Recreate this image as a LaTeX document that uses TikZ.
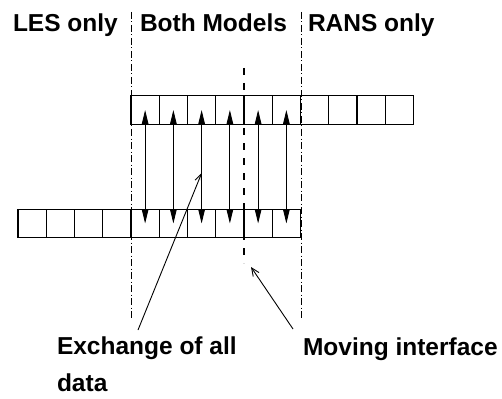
\documentclass[tikz,border=0pt]{standalone}
\usepackage{fontspec}
\setmainfont{Liberation Sans}
\usetikzlibrary{arrows.meta,positioning}

\begin{document}
\begin{tikzpicture}[x=1pt,y=-1pt,
  font=\fontsize{24.5}{37}\selectfont\bfseries,
  cell/.style={draw,line width=1.3pt,minimum width=28.25pt,minimum height=28.5pt,inner sep=0pt,outer sep=0pt},
  zone/.style={line width=0.7pt,dash pattern=on 7pt off 2.5pt on 1pt off 2.5pt},
  swap/.style={line width=0.9pt,{Triangle[length=14pt,width=6.5pt]}-{Triangle[length=14pt,width=6.5pt]}},
  note/.style={line width=0.9pt,-{Straight Barb[length=8pt,width=7pt]}},
  lbl/.style={inner sep=0pt,outer sep=0pt}]
  \useasboundingbox (0,0) rectangle (502,398);
  % region labels
  \node[lbl,anchor=base west] (les)  at (13,31.7)  {LES only};
  \node[lbl,anchor=base west] (both) at (140,31.7) {Both Models};
  \node[lbl,anchor=base west] (rans) at (308,31.7) {RANS only};
  % region borders
  \draw[zone] (131,12) -- (131,320);
  \draw[zone] (301,12) -- (301,320);
  % RANS row (top) and LES row (bottom)
  \foreach \i in {1,...,10} {
    \node[cell] (t\i) at ({131+28.25*(\i-0.5)},110) {};
    \node[cell] (b\i) at ({18+28.25*(\i-0.5)},223.5) {};
  }
  % moving interface
  \draw[line width=2pt,dash pattern=on 7pt off 8pt] (244,68) -- (244,263);
  % data exchange in the overlap
  \foreach \i [evaluate=\i as \j using int(\i+4)] in {1,...,6}
    \draw[swap] (t\i.center) -- (b\j.center);
  % annotations
  \node[lbl,anchor=north west,align=left] (exch) at (57,337) {Exchange of all\\data};
  \node[lbl,anchor=base west] (move) at (303,355) {Moving interface};
  \coordinate (exFoot) at (138,330);
  \coordinate (exTip)  at (201.7,173);
  \coordinate (mvFoot) at (293,329);
  \coordinate (mvTip)  at (251,267);
  \draw[note] (exFoot) -- (exTip);
  \draw[note] (mvFoot) -- (mvTip);
\end{tikzpicture}
\end{document}
